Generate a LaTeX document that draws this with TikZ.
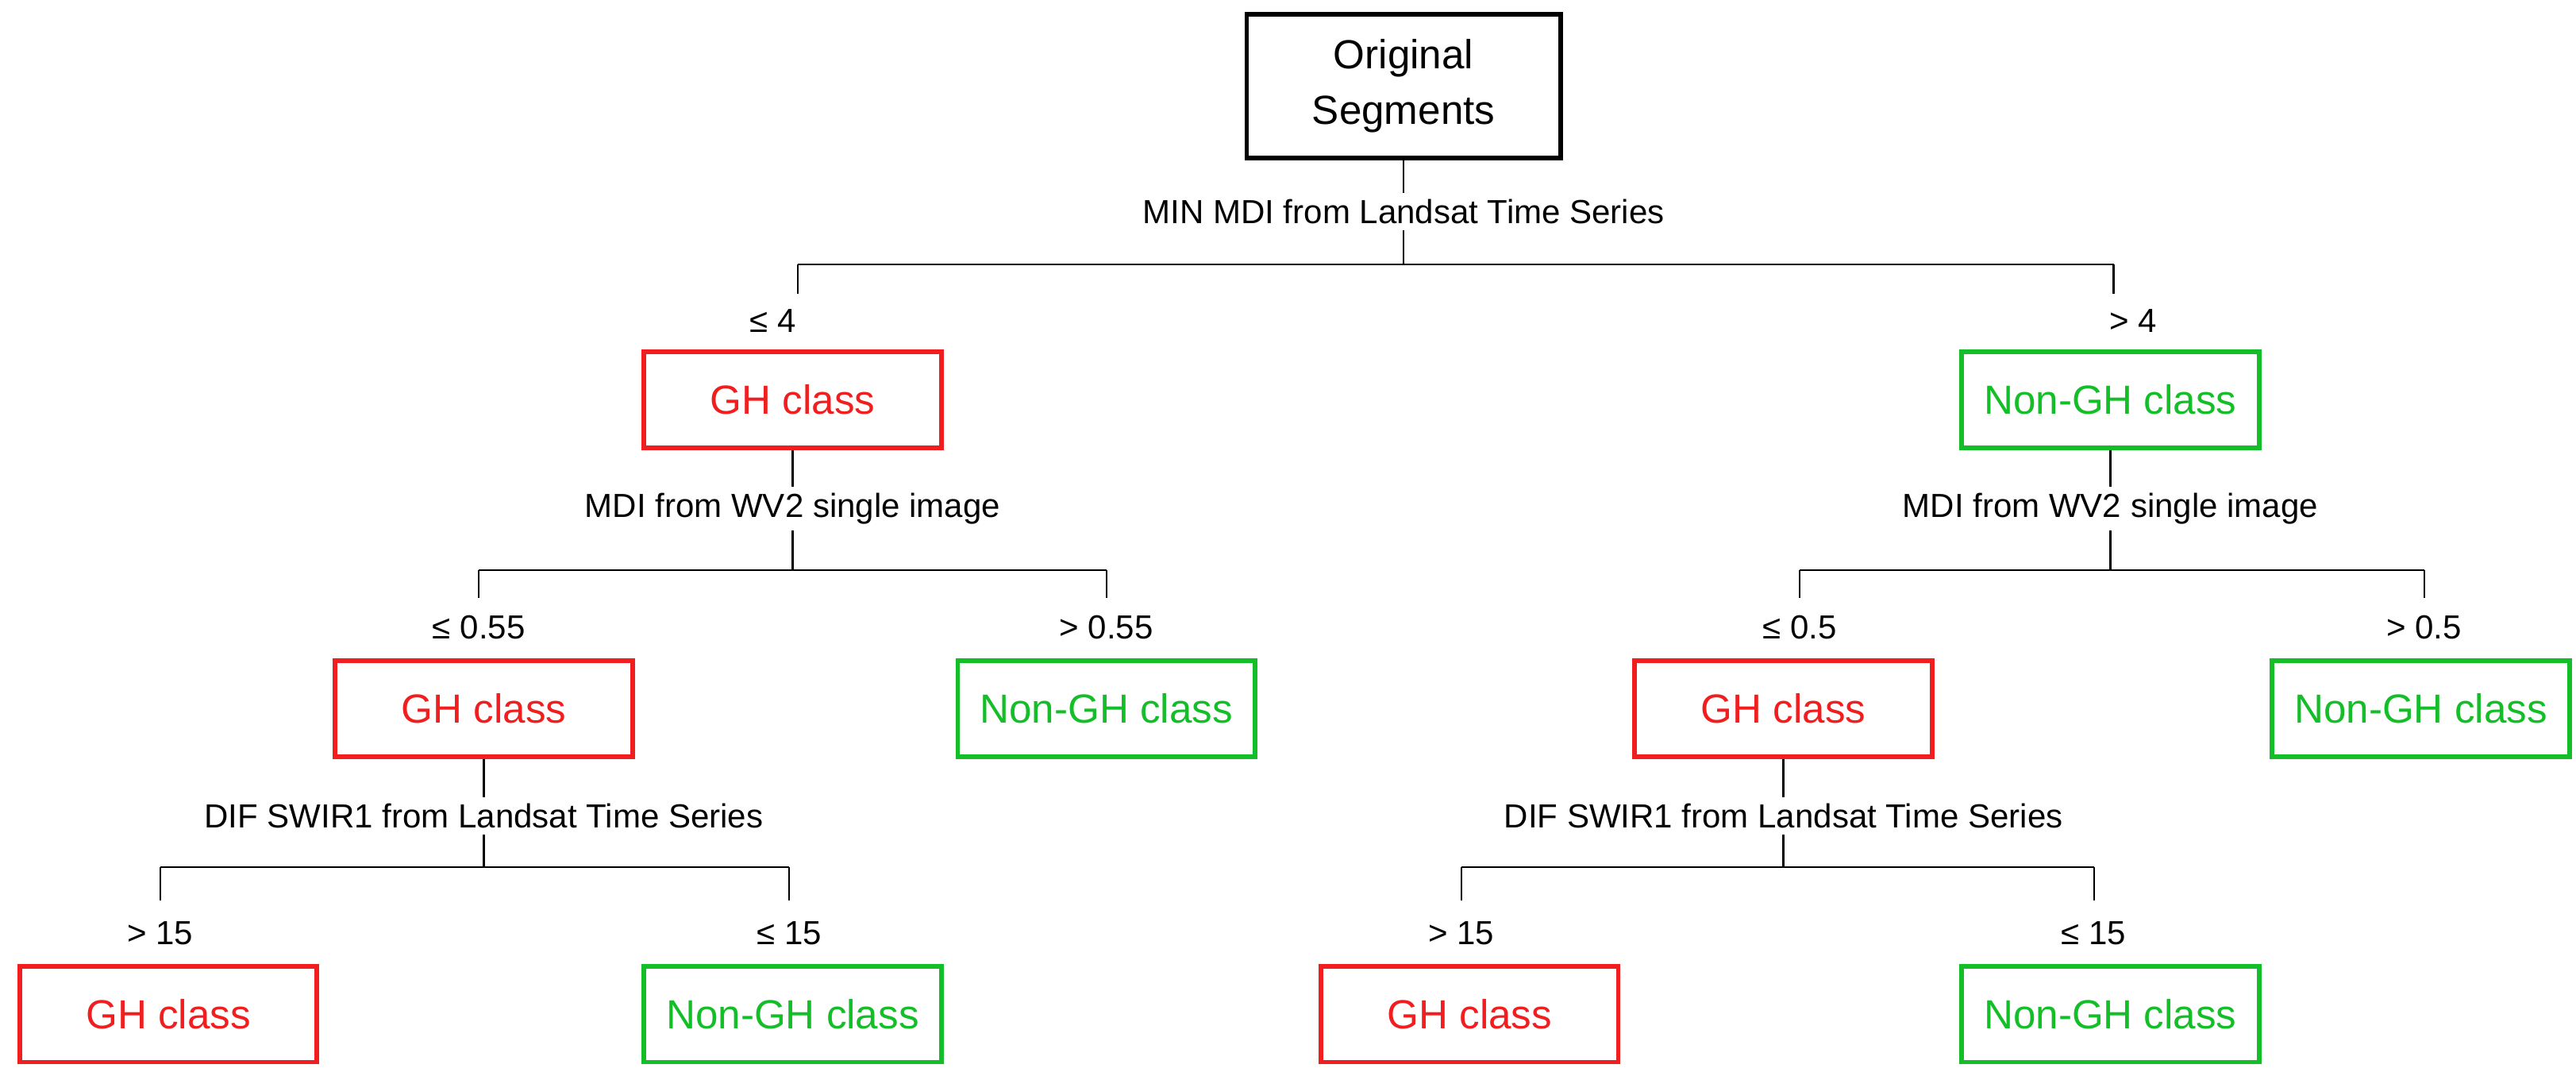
\documentclass[tikz,border=0pt]{standalone}
\usepackage{fontspec}
\setmainfont{Liberation Sans}
\definecolor{ghred}{RGB}{240,30,30}
\definecolor{nongreen}{RGB}{20,190,40}
\tikzset{
  box/.style={draw, line width=1.6pt, minimum width=3.6cm, minimum height=1.16cm, font=\fontsize{14}{16}\selectfont},
  ghbox/.style={box, draw=ghred, text=ghred},
  nonbox/.style={box, draw=nongreen, text=nongreen},
  test/.style={font=\fontsize{11.5}{13}\selectfont, inner sep=2pt},
  cond/.style={font=\fontsize{11.5}{13}\selectfont, inner sep=1pt},
  link/.style={line width=0.6pt}
}
\begin{document}
\begin{tikzpicture}[x=0.02cm,y=-0.02cm]
\useasboundingbox (0,0) rectangle (1560,649);

% Root and first split
\node[box, draw=black, minimum width=3.8cm, minimum height=1.74cm, align=center, font=\fontsize{14}{19}\selectfont] (root) at (850,52) {Original\\Segments};
\node[test] (t1) at (850,128) {MIN MDI from Landsat Time Series};
\coordinate (s1) at (850,160);
\coordinate (l1) at (483,160);
\coordinate (r1) at (1280,160);
\coordinate (le1) at (483,178);
\coordinate (re1) at (1280,178);
\node[cond] (c1a) at (468,194) {≤ 4};
\node[cond] (c1b) at (1292,194) {> 4};
\node[ghbox] (gh1) at (480,242) {GH class};
\node[nonbox] (non1) at (1278,242) {Non-GH class};
\draw[link] (root) -- (t1) (t1) -- (s1) (l1) -- (r1) (l1) -- (le1) (r1) -- (re1);

% Left second split
\node[test] (t2) at (480,308) {MDI from WV2 single image};
\coordinate (l2) at (290,345);
\coordinate (r2) at (670,345);
\coordinate (le2) at (290,362);
\coordinate (re2) at (670,362);
\node[cond] (c2a) at (290,380) {≤ 0.55};
\node[cond] (c2b) at (670,380) {> 0.55};
\node[ghbox] (gh2) at (293,429) {GH class};
\node[nonbox] (non2) at (670,429) {Non-GH class};
\draw[link] (gh1) -- (t2) (t2) -- (t2 |- l2) (l2) -- (r2) (l2) -- (le2) (r2) -- (re2);

% Right second split
\node[test] (t3) at (1278,308) {MDI from WV2 single image};
\coordinate (l3) at (1090,345);
\coordinate (r3) at (1468,345);
\coordinate (le3) at (1090,362);
\coordinate (re3) at (1468,362);
\node[cond] (c3a) at (1090,380) {≤ 0.5};
\node[cond] (c3b) at (1468,380) {> 0.5};
\node[ghbox] (gh3) at (1080,429) {GH class};
\node[nonbox] (non3) at (1466,429) {Non-GH class};
\draw[link] (non1) -- (t3) (t3) -- (t3 |- l3) (l3) -- (r3) (l3) -- (le3) (r3) -- (re3);

% Left third split
\node[test] (t4) at (293,494) {DIF SWIR1 from Landsat Time Series};
\coordinate (l4) at (97,525);
\coordinate (r4) at (478,525);
\coordinate (le4) at (97,545);
\coordinate (re4) at (478,545);
\node[cond] (c4a) at (97,565) {> 15};
\node[cond] (c4b) at (478,565) {≤ 15};
\node[ghbox] (gh4) at (102,614) {GH class};
\node[nonbox] (non4) at (480,614) {Non-GH class};
\draw[link] (gh2) -- (t4) (t4) -- (t4 |- l4) (l4) -- (r4) (l4) -- (le4) (r4) -- (re4);

% Right third split
\node[test] (t5) at (1080,494) {DIF SWIR1 from Landsat Time Series};
\coordinate (l5) at (885,525);
\coordinate (r5) at (1268,525);
\coordinate (le5) at (885,545);
\coordinate (re5) at (1268,545);
\node[cond] (c5a) at (885,565) {> 15};
\node[cond] (c5b) at (1268,565) {≤ 15};
\node[ghbox] (gh5) at (890,614) {GH class};
\node[nonbox] (non5) at (1278,614) {Non-GH class};
\draw[link] (gh3) -- (t5) (t5) -- (t5 |- l5) (l5) -- (r5) (l5) -- (le5) (r5) -- (re5);
\end{tikzpicture}
\end{document}
